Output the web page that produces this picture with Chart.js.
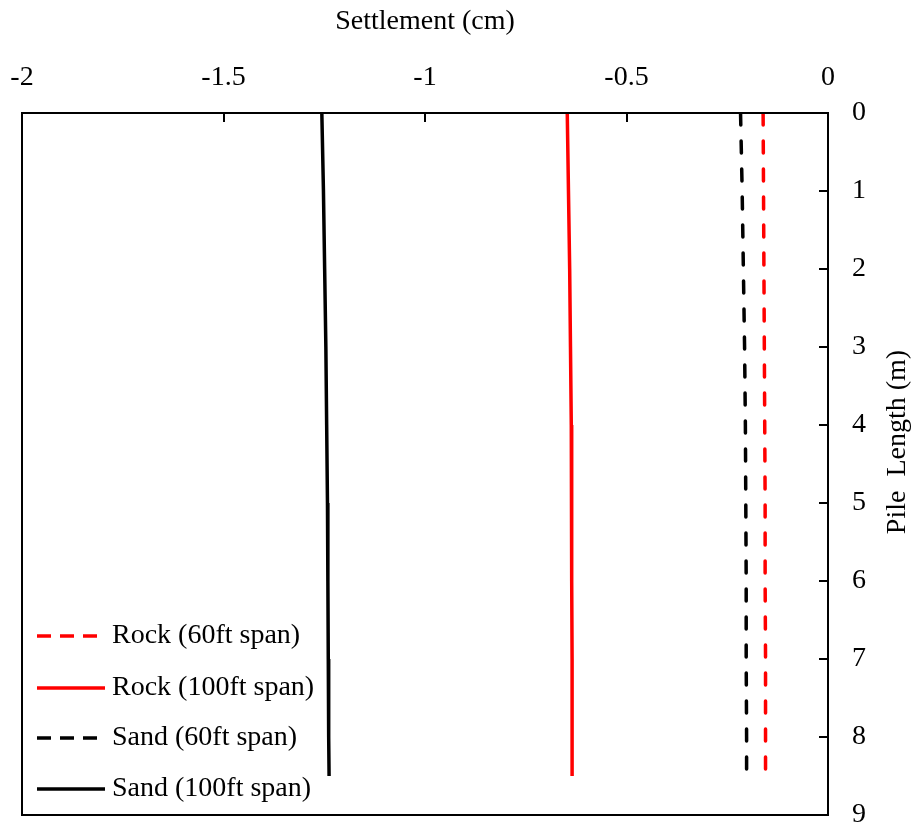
<!DOCTYPE html>
<html>
<head>
<meta charset="utf-8">
<script src="https://cdn.jsdelivr.net/npm/chart.js@4.4.1/dist/chart.umd.min.js"></script>
<style>
html,body{margin:0;padding:0;background:#fff}
#wrap{width:917px;height:828px;position:relative}
</style>
</head>
<body>
<div id="wrap"><canvas id="chart"></canvas></div>
<script>
// pile depth (m) and settlement (cm)
const pileLength = [0, 1, 2, 3, 4, 5, 6, 7, 8, 8.5];
const rock60  = [-0.161, -0.160, -0.159, -0.158, -0.157, -0.156, -0.156, -0.155, -0.155, -0.155];
const rock100 = [-0.647, -0.644, -0.641, -0.639, -0.637, -0.636, -0.636, -0.635, -0.635, -0.635];
const sand60  = [-0.217, -0.213, -0.210, -0.207, -0.205, -0.204, -0.203, -0.203, -0.202, -0.202];
const sand100 = [-1.256, -1.252, -1.249, -1.246, -1.244, -1.242, -1.241, -1.240, -1.239, -1.238];
const seriesNames = ['Rock (60ft span)', 'Rock (100ft span)', 'Sand (60ft span)', 'Sand (100ft span)'];

const FONT = '"Liberation Serif", "Times New Roman", serif';
const FSIZE = 28;

function pts(vals){ return vals.map((v,i)=>({x:v, y:pileLength[i]})); }

function ds(label, vals, color, dashed){
  return {
    label, data: pts(vals), showLine:true, borderColor:color, backgroundColor:color,
    borderWidth:3.5, borderDash: dashed ? [12,16] : [], borderCapStyle: dashed ? 'round' : 'butt',
    pointRadius:0, tension:0
  };
}

// frame, inward ticks, rotated y title and in-plot legend
const extras = {
  id:'extras',
  afterDraw(chart){
    const {ctx, chartArea:a, scales} = chart;
    ctx.save();
    ctx.strokeStyle = '#000';
    ctx.lineWidth = 2;
    ctx.strokeRect(a.left, a.top, a.right-a.left, a.bottom-a.top);
    ctx.beginPath();
    scales.x.ticks.forEach(t=>{
      const px = Math.round(scales.x.getPixelForValue(t.value));
      if(px<=a.left+1 || px>=a.right-1) return;
      ctx.moveTo(px, a.top); ctx.lineTo(px, a.top+9);
    });
    scales.y.ticks.forEach(t=>{
      const py = Math.round(scales.y.getPixelForValue(t.value));
      if(py<=a.top+1 || py>=a.bottom-1) return;
      ctx.moveTo(a.right, py); ctx.lineTo(a.right-9, py);
    });
    ctx.stroke();

    ctx.fillStyle = '#000';
    ctx.font = FSIZE+'px '+FONT;
    ctx.textAlign = 'center';
    ctx.textBaseline = 'middle';
    ctx.save();
    ctx.translate(898, 442);
    ctx.rotate(-Math.PI/2);
    ctx.fillText('Pile  Length (m)', 0, 0);
    ctx.restore();

    ctx.textAlign = 'left';
    const rows = [a.bottom-179, a.bottom-127, a.bottom-77, a.bottom-26];
    chart.data.datasets.forEach((d,i)=>{
      const y = rows[i];
      ctx.beginPath();
      ctx.strokeStyle = d.borderColor;
      ctx.lineWidth = 3.5;
      ctx.lineCap = 'butt';
      ctx.setLineDash(d.borderDash.length ? [14,9] : []);
      ctx.moveTo(37, y); ctx.lineTo(105, y);
      ctx.stroke();
      ctx.setLineDash([]);
      ctx.fillText(d.label, 112, y);
    });
    ctx.restore();
  }
};

new Chart(document.getElementById('chart'), {
  type:'scatter',
  data:{ datasets:[
    ds(seriesNames[0], rock60, '#ff0000', true),
    ds(seriesNames[1], rock100, '#ff0000', false),
    ds(seriesNames[2], sand60, '#000000', true),
    ds(seriesNames[3], sand100, '#000000', false)
  ]},
  options:{
    responsive:true, maintainAspectRatio:false, animation:false,
    layout:{ padding:{ left:22, right:0, top:0, bottom:13 } },
    plugins:{ legend:{display:false}, tooltip:{enabled:false} },
    scales:{
      x:{
        type:'linear', position:'top', min:-2, max:0,
        grid:{ display:false, drawTicks:false },
        border:{ display:false },
        ticks:{ stepSize:0.5, padding:19, color:'#000', font:{family:FONT, size:FSIZE}, maxRotation:0,
                callback:v=>String(v) },
        title:{ display:true, text:'Settlement (cm)', color:'#000', font:{family:FONT, size:FSIZE}, padding:{top:5, bottom:0} },
        afterFit(s){ s.height = 113; s.paddingLeft = 0; s.paddingRight = 0; }
      },
      y:{
        type:'linear', position:'right', min:0, max:9, reverse:true,
        grid:{ display:false, drawTicks:false },
        border:{ display:false },
        ticks:{ stepSize:1, padding:24, color:'#000', font:{family:FONT, size:FSIZE} },
        afterFit(s){ s.width = 89; s.paddingTop = 0; s.paddingBottom = 0; }
      }
    }
  },
  plugins:[extras]
});
</script>
</body>
</html>
